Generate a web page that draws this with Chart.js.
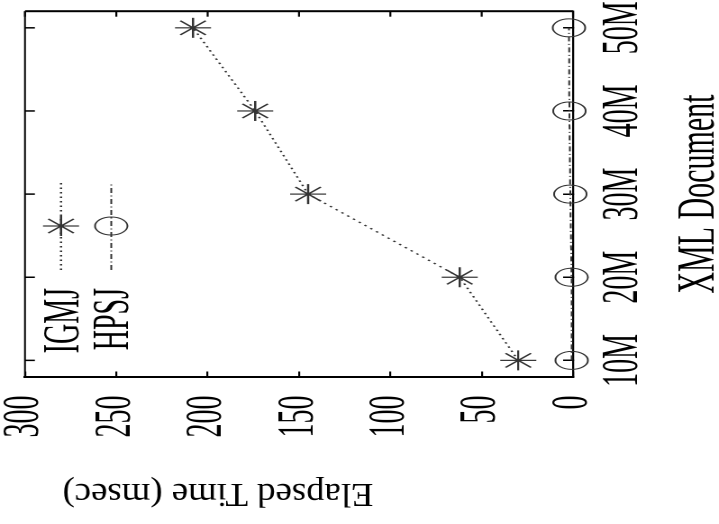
<!DOCTYPE html>
<html>
<head>
<meta charset="utf-8">
<script src="https://cdn.jsdelivr.net/npm/chart.js"></script>
<style>
  html, body { margin: 0; padding: 0; background: #fff; overflow: hidden; }
  body { width: 719px; height: 524px; position: relative; }
  /* plot is laid out upright, then turned on its side and stretched */
  #plot {
    position: absolute; left: 0; top: 0;
    transform-origin: 0 0;
    transform: translate(0px, 524px) rotate(-90deg) scaleY(1.80201);
  }
</style>
</head>
<body>
<canvas id="plot" width="524" height="399"></canvas>
<script>
const docLabels = ['10M', '20M', '30M', '40M', '50M'];
const docSizes = [10, 20, 30, 40, 50];
const igmjTimes = [30, 62, 145, 174, 208];
const hpsjTimes = [0.7, 0.8, 1.5, 2.0, 2.2];

const serif = "'Liberation Serif', 'Times New Roman', serif";
const TICK = 5.5;

// gnuplot-like frame: mirrored ticks, key and y label
const gnuplotFrame = {
  id: 'gnuplotFrame',
  afterDraw(chart) {
    const { ctx, chartArea: a, scales } = chart;
    const line = (x1, y1, x2, y2) => { ctx.beginPath(); ctx.moveTo(x1, y1); ctx.lineTo(x2, y2); ctx.stroke(); };
    ctx.save();
    ctx.strokeStyle = '#000';
    ctx.lineWidth = 1.1;
    line(a.left, a.top, a.right, a.top);
    ctx.lineWidth = 2;
    line(a.right, a.top, a.right, a.bottom);

    ctx.lineWidth = 1.5;
    scales.x.ticks.forEach(t => {
      const px = scales.x.getPixelForValue(t.value);
      line(px, a.top, px, a.top + TICK);
    });
    ctx.lineWidth = 1.1;
    scales.y.ticks.forEach(t => {
      const py = scales.y.getPixelForValue(t.value);
      line(a.right, py, a.right - TICK, py);
    });

    // key
    ctx.font = '28px ' + serif;
    ctx.fillStyle = '#000';
    ctx.textAlign = 'right';
    ctx.textBaseline = 'alphabetic';
    chart.data.datasets.forEach((ds, i) => {
      const base = 43.3 + 27.8 * i;
      const mid = base - 9.4;
      ctx.fillText(ds.label, 236, base);
      ctx.strokeStyle = ds.borderColor;
      ctx.lineWidth = ds.borderWidth;
      ctx.setLineDash(ds.borderDash);
      line(254, mid, 342, mid);
      ctx.setLineDash([]);
      ctx.lineWidth = ds.pointBorderWidth;
      ctx.fillStyle = 'rgba(0,0,0,0)';
      Chart.helpers.drawPoint(ctx, { pointStyle: ds.pointStyle, radius: ds.pointRadius, rotation: 0, borderWidth: ds.pointBorderWidth }, 298, mid);
      ctx.fillStyle = '#000';
    });

    // y axis label
    ctx.translate(40, 121);
    ctx.rotate(-Math.PI / 2);
    ctx.scale(0.6, 1);
    ctx.font = '34px ' + serif;
    ctx.textAlign = 'center';
    ctx.fillText('Elapsed Time (msec)', 0, 0);
    ctx.restore();
  }
};

new Chart(document.getElementById('plot'), {
  type: 'line',
  data: {
    datasets: [{
      label: 'IGMJ',
      data: docSizes.map((x, i) => ({ x, y: igmjTimes[i] })),
      borderColor: '#333',
      borderWidth: 1.2,
      borderDash: [1.5, 3],
      pointStyle: 'star',
      pointRadius: 10,
      pointBorderWidth: 1.2,
      pointBorderColor: '#333',
      pointBackgroundColor: 'rgba(0,0,0,0)',
      backgroundColor: 'rgba(0,0,0,0)',
      clip: false
    }, {
      label: 'HPSJ',
      data: docSizes.map((x, i) => ({ x, y: hpsjTimes[i] })),
      borderColor: '#333',
      borderWidth: 1,
      borderDash: [5, 2.5, 1, 2.5],
      pointStyle: 'circle',
      pointRadius: 9,
      pointBorderWidth: 1,
      pointBorderColor: '#333',
      pointBackgroundColor: 'rgba(0,0,0,0)',
      backgroundColor: 'rgba(0,0,0,0)',
      clip: false
    }]
  },
  options: {
    responsive: false,
    animation: false,
    devicePixelRatio: 2,
    layout: { padding: { left: 87, right: 11, top: 13.87, bottom: 0 } },
    plugins: {
      legend: { display: false },
      tooltip: { enabled: false }
    },
    scales: {
      x: {
        type: 'linear',
        min: 8,
        max: 52,
        afterBuildTicks: axis => { axis.ticks = docSizes.map(v => ({ value: v })); },
        afterFit: axis => {
          axis.height = 81;
          axis.paddingLeft = 0;
          axis.paddingRight = 0;
        },
        ticks: {
          callback: v => docLabels[docSizes.indexOf(v)],
          font: { family: serif, size: 28, lineHeight: 1 },
          color: '#000',
          padding: 19.8,
          maxRotation: 0,
          autoSkip: false
        },
        grid: { drawOnChartArea: false, tickLength: -TICK, color: '#000', lineWidth: 1.5, tickWidth: 1.5 },
        border: { color: '#000', width: 1.1 },
        title: {
          display: true,
          text: 'XML Document',
          color: '#000',
          font: { family: serif, size: 30, lineHeight: 0.7 },
          padding: { top: 17.5, bottom: 0.5 }
        }
      },
      y: {
        min: 0,
        max: 300,
        afterFit: axis => {
          axis.width = 60;
          axis.paddingTop = 0;
          axis.paddingBottom = 0;
        },
        ticks: {
          stepSize: 50,
          font: { family: serif, size: 28, lineHeight: 1 },
          color: '#000',
          padding: 24
        },
        grid: { drawOnChartArea: false, tickLength: -TICK, color: '#000', lineWidth: 1.1, tickWidth: 1.1 },
        border: { color: '#000', width: 2 }
      }
    }
  },
  plugins: [gnuplotFrame]
});
</script>
</body>
</html>
